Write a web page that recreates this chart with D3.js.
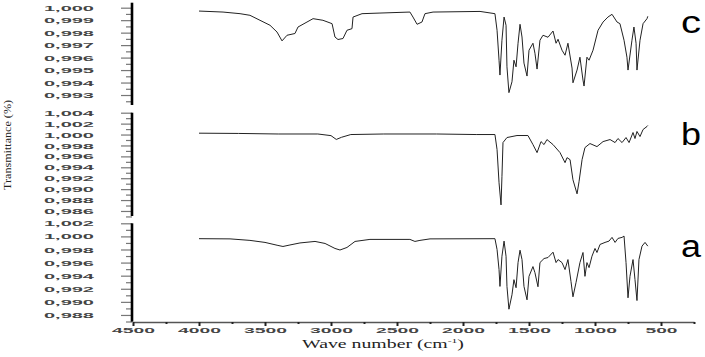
<!DOCTYPE html>
<html>
<head>
<meta charset="utf-8">
<script src="https://cdn.jsdelivr.net/npm/d3@7"></script>
<style>
body { margin: 0; background: #fff; }
</style>
</head>
<body>
<svg id="chart" width="705" height="357"></svg>
<script>
// spectrum c (top)
var waveC = [4000, 3818, 3689, 3614, 3538, 3462, 3409, 3371, 3333, 3273, 3250, 3182, 3136, 3061, 2992, 2970, 2947, 2909, 2879, 2841, 2833, 2765, 2629, 2402, 2379, 2348, 2311, 2288, 2227, 1871,
    1758, 1742, 1727, 1720, 1705, 1689, 1674, 1667, 1652, 1629, 1614, 1598, 1583, 1568, 1553, 1538, 1515, 1500, 1470, 1455, 1439, 1417, 1394, 1356, 1318, 1295, 1280, 1250, 1227, 1205,
    1174, 1167, 1136, 1114, 1091, 1083, 1061, 1045, 1015, 977, 939, 902, 871, 833, 811, 780, 758, 750, 720, 705, 689, 682, 659, 636, 606, 600];
var transC = [0.99973, 0.99965, 0.99952, 0.99939, 0.99899, 0.99859, 0.99805, 0.99734, 0.99779, 0.99793, 0.99845, 0.99885, 0.99912, 0.99899, 0.99872, 0.99765, 0.99745, 0.99753, 0.99819, 0.99832, 0.99925, 0.99952, 0.99957, 0.99965, 0.99925, 0.99867, 0.99885, 0.99952, 0.99965, 0.9997,
    0.99952, 0.99819, 0.99579, 0.9946, 0.99739, 0.99925, 0.99859, 0.99526, 0.99319, 0.99406, 0.99579, 0.99526, 0.99715, 0.99867, 0.99765, 0.99556, 0.99452, 0.99659, 0.99715, 0.99635, 0.99508, 0.99739, 0.99779, 0.99763, 0.99813, 0.99715, 0.99747, 0.99659, 0.99619, 0.99715,
    0.99516, 0.99398, 0.995, 0.99603, 0.9942, 0.99372, 0.99603, 0.99579, 0.99659, 0.99819, 0.99885, 0.99925, 0.99947, 0.99885, 0.99872, 0.99739, 0.99603, 0.995, 0.99739, 0.99845, 0.99715, 0.995, 0.99739, 0.99872, 0.99912, 0.99931];

// spectrum b (middle)
var waveB = [4000, 3700, 3400, 3100, 3000, 2960, 2920, 2850, 2600, 2200, 1900, 1758, 1742, 1727, 1712, 1705, 1697, 1667, 1591, 1508, 1470, 1439, 1409, 1386, 1364, 1318, 1265, 1227, 1212, 1189,
    1167, 1136, 1121, 1098, 1076, 1038, 985, 939, 886, 848, 826, 795, 765, 742, 712, 697, 682, 659, 636, 606, 600];
var transB = [1.00025, 1.0002, 1.0001, 1.0001, 0.9998, 0.9991, 0.9995, 1.0000, 1.0001, 1.0001, 1.0000, 1.0000, 0.99724, 0.99116, 0.98711, 0.99227, 0.99853, 0.99945, 0.99982, 0.99982, 0.99816, 0.99669, 0.99871, 0.99816, 0.99908, 0.99816, 0.99669, 0.99485, 0.99577, 0.9954,
    0.99171, 0.98914, 0.99135, 0.9954, 0.99761, 0.99835, 0.99779, 0.99871, 0.99908, 0.99853, 0.99927, 0.99853, 0.99945, 0.99853, 1.00037, 0.99927, 1.00056, 0.99963, 1.00092, 1.00148, 1.00166];

// spectrum a (bottom)
var waveA = [4000, 3765, 3614, 3500, 3402, 3364, 3311, 3235, 3121, 3045, 2970, 2932, 2879, 2818, 2705, 2402, 2364, 2326, 2250, 1758,
    1742, 1727, 1720, 1705, 1689, 1674, 1667, 1652, 1629, 1614, 1598, 1583, 1568, 1553, 1538, 1515, 1500, 1470, 1455, 1432, 1417, 1386, 1356, 1318, 1295, 1280, 1250, 1227, 1205,
    1182, 1167, 1144, 1114, 1091, 1076, 1061, 1045, 1023, 1000, 985, 962, 924, 894, 871, 848, 826, 795, 780, 765, 750, 735, 712, 697, 682, 667, 644, 621, 600];
var transA = [0.99965, 0.99962, 0.99939, 0.99908, 0.99862, 0.99846, 0.99869, 0.999, 0.99923, 0.99892, 0.99816, 0.99792, 0.99831, 0.99923, 0.99954, 0.99954, 0.99923, 0.99939, 0.99962, 0.99965,
    0.998, 0.99493, 0.99236, 0.99697, 0.99928, 0.99697, 0.99236, 0.98888, 0.99108, 0.99339, 0.99216, 0.996, 0.99789, 0.99646, 0.99236, 0.99031, 0.9939, 0.99539, 0.99446, 0.99231, 0.996, 0.99662, 0.99677, 0.99759, 0.996, 0.99646, 0.996, 0.99493, 0.99646,
    0.99313, 0.99077, 0.99293, 0.996, 0.99754, 0.9939, 0.996, 0.99523, 0.99697, 0.99816, 0.99754, 0.99877, 0.99908, 0.99928, 0.99985, 0.99908, 0.99969, 0.99985, 1.00005, 0.996, 0.99062, 0.9939, 0.99646, 0.99339, 0.9902, 0.99646, 0.99851, 0.99908, 0.99851];

// axis ticks
var xTicks = [4500, 4000, 3500, 3000, 2500, 2000, 1500, 1000, 500];
var xMinor = [4250, 3750, 3250, 2750, 2250, 1750, 1250, 750, 250];
var ticksC = [1.000, 0.999, 0.998, 0.997, 0.996, 0.995, 0.994, 0.993];
var minorC = [0.9995, 0.9985, 0.9975, 0.9965, 0.9955, 0.9945, 0.9935, 0.9925];
var ticksB = [1.004, 1.002, 1.000, 0.998, 0.996, 0.994, 0.992, 0.990, 0.988, 0.986];
var minorB = [1.003, 1.001, 0.999, 0.997, 0.995, 0.993, 0.991, 0.989, 0.987, 0.985];
var ticksA = [1.002, 1.000, 0.998, 0.996, 0.994, 0.992, 0.990, 0.988];
var minorA = [1.001, 0.999, 0.997, 0.995, 0.993, 0.991, 0.989, 0.987];

var svg = d3.select("#chart");
var axisX = 132;

var x = d3.scaleLinear().domain([4500, 250]).range([133, 694]);

var panels = [
    { label: "c", wave: waveC, trans: transC, domain: [0.9922, 1.0004], range: [105, 2.7], major: ticksC, minor: minorC, ly: 33 },
    { label: "b", wave: waveB, trans: transB, domain: [0.98508, 1.004], range: [216, 112.7], major: ticksB, minor: minorB, ly: 145 },
    { label: "a", wave: waveA, trans: transA, domain: [0.98697, 1.002], range: [321.7, 223.3], major: ticksA, minor: minorA, ly: 257 }
];

function fmtTick(d) {
    return d3.format(".3f")(d).replace(".", ",");
}

panels.forEach(function (p) {
    var y = d3.scaleLinear().domain(p.domain).range(p.range);

    // minor ticks
    svg.append("g")
        .attr("transform", `translate(${axisX},0)`)
        .call(d3.axisLeft(y).tickValues(p.minor).tickSize(6).tickSizeOuter(0).tickFormat(""))
        .call(function (g) { g.select(".domain").remove(); })
        .selectAll("line").attr("stroke", "#777").attr("stroke-width", 1.2);

    // major ticks and labels
    var g = svg.append("g")
        .attr("transform", `translate(${axisX},0)`)
        .call(d3.axisLeft(y).tickValues(p.major).tickSize(11).tickSizeOuter(0).tickPadding(27).tickFormat(fmtTick));
    g.select(".domain").remove();
    g.selectAll("line").attr("stroke", "#777").attr("stroke-width", 1.2);
    g.selectAll("text")
        .attr("font-family", "Liberation Sans, Arial, sans-serif")
        .attr("font-size", 8)
        .attr("font-weight", "bold")
        .attr("fill", "#444")
        .attr("textLength", 50)
        .attr("lengthAdjust", "spacingAndGlyphs");

    // thick axis line
    svg.append("line")
        .attr("x1", axisX).attr("x2", axisX)
        .attr("y1", p.range[1]).attr("y2", p.range[0])
        .attr("stroke", "#000").attr("stroke-width", 2.6);

    var pts = p.wave.map(function (w, i) { return [w, p.trans[i]]; });
    var line = d3.line()
        .x(function (d) { return x(d[0]); })
        .y(function (d) { return y(d[1]); });
    svg.append("path")
        .datum(pts)
        .attr("d", line)
        .attr("fill", "none")
        .attr("stroke", "#222")
        .attr("stroke-width", 1)
        .attr("stroke-linejoin", "round");

    svg.append("text")
        .attr("x", 681).attr("y", p.ly)
        .attr("font-family", "Liberation Sans, Arial, sans-serif")
        .attr("font-size", 31)
        .attr("textLength", 20)
        .attr("lengthAdjust", "spacingAndGlyphs")
        .attr("fill", "#000")
        .text(p.label);
});

// x axis
var xg = svg.append("g")
    .attr("transform", "translate(0,322)")
    .call(d3.axisBottom(x).tickValues(xTicks).tickSize(4).tickSizeOuter(0).tickPadding(2).tickFormat(d3.format("d")));
xg.select(".domain").attr("stroke", "#555").attr("stroke-width", 1.5);
xg.selectAll("line").attr("stroke", "#222").attr("stroke-width", 2);
xg.selectAll("text")
    .attr("font-family", "Liberation Sans, Arial, sans-serif")
    .attr("font-size", 7.5)
    .attr("font-weight", "bold")
    .attr("fill", "#444")
    .attr("textLength", function (d) { return String(d).length * 11 - 1; })
    .attr("lengthAdjust", "spacingAndGlyphs");

svg.append("g")
    .attr("transform", "translate(0,322)")
    .call(d3.axisBottom(x).tickValues(xMinor).tickSize(2).tickFormat(""))
    .call(function (g) { g.select(".domain").remove(); })
    .selectAll("line").attr("stroke", "#222").attr("stroke-width", 2);

// axis titles
var xt = svg.append("text")
    .attr("transform", "translate(383,348) scale(1.65,1)")
    .attr("text-anchor", "middle")
    .attr("font-family", "Liberation Serif, Times New Roman, serif")
    .attr("font-size", 12)
    .attr("fill", "#222");
xt.append("tspan").text("Wave number  (cm");
xt.append("tspan").attr("font-size", 7).attr("dy", -5).text("-1");
xt.append("tspan").attr("dy", 5).text(")");

svg.append("text")
    .attr("transform", "translate(11,145) rotate(-90)")
    .attr("text-anchor", "middle")
    .attr("font-family", "Liberation Serif, Times New Roman, serif")
    .attr("font-size", 10)
    .attr("fill", "#222")
    .attr("textLength", 90)
    .attr("lengthAdjust", "spacingAndGlyphs")
    .text("Transmittance (%)");
</script>
</body>
</html>
